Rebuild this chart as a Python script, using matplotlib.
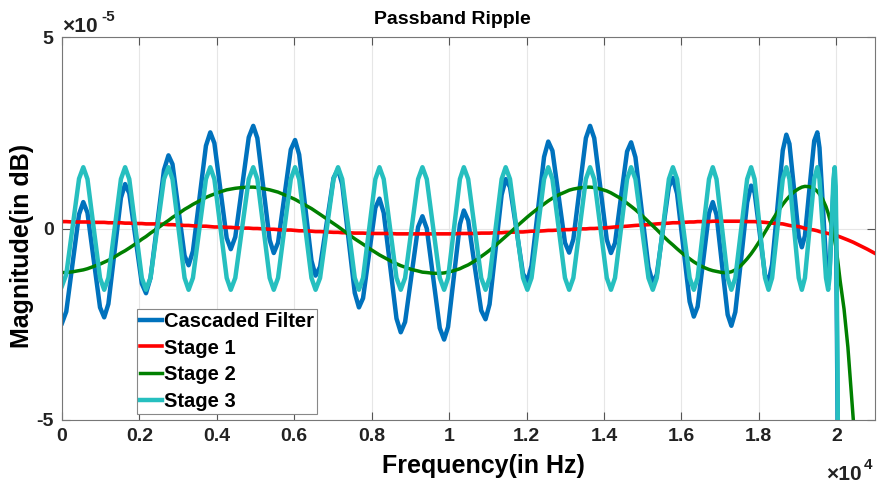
import numpy as np
import matplotlib.pyplot as plt

plt.rcParams['font.family'] = ['Liberation Sans', 'DejaVu Sans']
plt.rcParams['font.weight'] = 'bold'

# magnitudes, in units of 1e-5 dB
UNIT = 1e-5

freq = [
    0, 110, 275, 440, 550, 658, 820, 982, 1090, 1198,
    1360, 1522, 1630, 1738, 1900, 2062, 2170, 2286, 2460, 2634,
    2750, 2854, 3010, 3166, 3270, 3382, 3550, 3718, 3830, 3936,
    4095, 4254, 4360, 4476, 4650, 4824, 4940, 5046, 5205, 5364,
    5470, 5580, 5745, 5910, 6020, 6126, 6285, 6444, 6550, 6666,
    6840, 7014, 7130, 7238, 7400, 7562, 7670, 7776, 7935, 8094,
    8200, 8310, 8475, 8640, 8750, 8862, 9030, 9198, 9310, 9422,
    9590, 9758, 9870, 9972, 10125, 10278, 10380, 10492, 10660, 10828,
    10940, 11044, 11200, 11356, 11460, 11572, 11740, 11908, 12020, 12128,
    12290, 12452, 12560, 12668, 12830, 12992, 13100, 13208, 13370, 13532,
    13640, 13748, 13910, 14072, 14180, 14284, 14440, 14596, 14700, 14812,
    14980, 15148, 15260, 15364, 15520, 15676, 15780, 15888, 16050, 16212,
    16320, 16418, 16565, 16712, 16810, 16906, 17050, 17194, 17290, 17392,
    17545, 17698, 17800, 17890, 18025, 18160, 18250, 18342, 18480, 18618,
    18710, 18790, 18910, 19030, 19110, 19190, 19310, 19430, 19510, 19566,
    19650, 19734, 19790, 19824, 19875, 19926, 19960, 19985, 20000, 20015,
    20030, 20045, 20100, 20200, 20300, 20440, 20600, 20800, 21000,
]

stage1 = [
    0.18, 0.18, 0.17, 0.17, 0.17, 0.17, 0.16, 0.16, 0.16, 0.15,
    0.15, 0.15, 0.14, 0.14, 0.13, 0.13, 0.12, 0.12, 0.12, 0.11,
    0.10, 0.10, 0.09, 0.08, 0.08, 0.07, 0.06, 0.06, 0.05, 0.04,
    0.04, 0.03, 0.03, 0.02, 0.01, 0.01, 0.00, 0.00, -0.01, -0.02,
    -0.02, -0.03, -0.04, -0.04, -0.05, -0.06, -0.06, -0.07, -0.08, -0.08,
    -0.09, -0.10, -0.10, -0.11, -0.11, -0.12, -0.12, -0.12, -0.13, -0.13,
    -0.13, -0.13, -0.13, -0.14, -0.14, -0.14, -0.14, -0.14, -0.14, -0.14,
    -0.14, -0.14, -0.14, -0.14, -0.14, -0.13, -0.13, -0.13, -0.13, -0.12,
    -0.12, -0.12, -0.11, -0.11, -0.10, -0.10, -0.09, -0.09, -0.08, -0.07,
    -0.07, -0.06, -0.05, -0.05, -0.04, -0.03, -0.03, -0.02, -0.01, -0.01,
    0.00, 0.00, 0.01, 0.02, 0.03, 0.04, 0.05, 0.06, 0.07, 0.08,
    0.09, 0.10, 0.11, 0.12, 0.13, 0.14, 0.15, 0.15, 0.16, 0.17,
    0.17, 0.18, 0.18, 0.18, 0.19, 0.19, 0.19, 0.19, 0.19, 0.19,
    0.19, 0.18, 0.18, 0.18, 0.17, 0.16, 0.15, 0.14, 0.13, 0.12,
    0.10, 0.08, 0.06, 0.05, 0.03, 0.00, -0.02, -0.04, -0.06, -0.08,
    -0.10, -0.12, -0.13, -0.14, -0.15, -0.16, -0.17, -0.18, -0.18, -0.19,
    -0.19, -0.20, -0.22, -0.26, -0.30, -0.36, -0.44, -0.54, -0.65,
]

stage2 = [
    -1.15, -1.15, -1.13, -1.10, -1.08, -1.05, -0.99, -0.93, -0.88, -0.83,
    -0.74, -0.64, -0.58, -0.51, -0.40, -0.28, -0.21, -0.12, 0.00, 0.13,
    0.21, 0.29, 0.39, 0.50, 0.56, 0.63, 0.72, 0.81, 0.86, 0.90,
    0.96, 1.01, 1.03, 1.05, 1.07, 1.08, 1.08, 1.07, 1.04, 1.01,
    0.98, 0.95, 0.88, 0.81, 0.76, 0.70, 0.61, 0.52, 0.45, 0.37,
    0.25, 0.13, 0.05, -0.03, -0.15, -0.27, -0.34, -0.41, -0.52, -0.62,
    -0.69, -0.75, -0.84, -0.92, -0.97, -1.01, -1.07, -1.11, -1.14, -1.15,
    -1.17, -1.17, -1.16, -1.14, -1.10, -1.05, -1.00, -0.95, -0.85, -0.73,
    -0.65, -0.57, -0.44, -0.30, -0.21, -0.11, 0.05, 0.20, 0.30, 0.39,
    0.52, 0.64, 0.72, 0.79, 0.88, 0.95, 1.00, 1.03, 1.06, 1.08,
    1.08, 1.07, 1.03, 0.98, 0.93, 0.87, 0.78, 0.66, 0.58, 0.49,
    0.34, 0.18, 0.07, -0.03, -0.19, -0.34, -0.43, -0.53, -0.67, -0.79,
    -0.87, -0.93, -1.01, -1.07, -1.10, -1.12, -1.15, -1.15, -1.13, -1.08,
    -0.96, -0.79, -0.66, -0.53, -0.32, -0.09, 0.06, 0.21, 0.43, 0.63,
    0.75, 0.84, 0.96, 1.04, 1.08, 1.10, 1.09, 1.04, 0.97, 0.90,
    0.76, 0.57, 0.40, 0.27, 0.08, -0.12, -0.30, -0.45, -0.55, -0.66,
    -0.78, -0.90, -1.37, -2.10, -3.10, -5.00, -7.50, -11.0, -15.0,
]

nan = float('nan')
stage3 = [
    -1.50, -1.20, 0.05, 1.30, 1.60, 1.29, 0.00, -1.29, -1.60, -1.29,
    0.00, 1.29, 1.60, 1.29, 0.00, -1.29, -1.60, -1.29, 0.00, 1.29,
    1.60, 1.29, 0.00, -1.29, -1.60, -1.29, 0.00, 1.29, 1.60, 1.29,
    0.00, -1.29, -1.60, -1.29, 0.00, 1.29, 1.60, 1.29, 0.00, -1.29,
    -1.60, -1.29, 0.00, 1.29, 1.60, 1.29, 0.00, -1.29, -1.60, -1.29,
    0.00, 1.29, 1.60, 1.29, 0.00, -1.29, -1.60, -1.29, 0.00, 1.29,
    1.60, 1.29, 0.00, -1.29, -1.60, -1.29, 0.00, 1.29, 1.60, 1.29,
    0.00, -1.29, -1.60, -1.29, 0.00, 1.29, 1.60, 1.29, 0.00, -1.29,
    -1.60, -1.29, 0.00, 1.29, 1.60, 1.29, 0.00, -1.29, -1.60, -1.29,
    0.00, 1.29, 1.60, 1.29, 0.00, -1.29, -1.60, -1.29, 0.00, 1.29,
    1.60, 1.29, 0.00, -1.29, -1.60, -1.29, 0.00, 1.29, 1.60, 1.29,
    0.00, -1.29, -1.60, -1.29, 0.00, 1.29, 1.60, 1.29, 0.00, -1.29,
    -1.60, -1.29, 0.00, 1.29, 1.60, 1.29, 0.00, -1.29, -1.60, -1.29,
    0.00, 1.29, 1.60, 1.29, 0.00, -1.29, -1.60, -1.29, 0.00, 1.29,
    1.60, 1.29, 0.00, -1.29, -1.60, -1.29, 0.00, 1.29, 1.60, 1.29,
    0.00, -1.29, -1.60, -1.29, 0.00, 1.29, 1.60, 1.10, 0.00, -1.60,
    -3.50, -6.00, nan, nan, nan, nan, nan, nan, nan,
]

labels = ['Cascaded Filter', 'Stage 1', 'Stage 2', 'Stage 3']
colors = ['#0072BD', '#FF0000', '#008000', '#26BFBF']
widths = [3.2, 2.6, 2.5, 3.2]

xticks = [0, 2000, 4000, 6000, 8000, 10000, 12000, 14000, 16000, 18000, 20000]
xticklabels = ['0', '0.2', '0.4', '0.6', '0.8', '1', '1.2', '1.4', '1.6', '1.8', '2']
yticks = [-5e-5, 0, 5e-5]
yticklabels = ['-5', '0', '5']

f = np.array(freq)
s1 = np.array(stage1) * UNIT
s2 = np.array(stage2) * UNIT
s3 = np.array(stage3) * UNIT
# cascaded response in dB is the sum of the three stages
cascade = s1 + s2 + s3

fig = plt.figure(figsize=(8.78, 4.87), dpi=100)
ax = fig.add_axes([62 / 878, 67 / 487, 813 / 878, 383 / 487])

for y, lab, c, lw in zip([cascade, s1, s2, s3], labels, colors, widths):
    ax.plot(f, y, color=c, lw=lw, label=lab, solid_joinstyle='round')

ax.set_xlim(0, 21000)
ax.set_ylim(-5e-5, 5e-5)
ax.set_xticks(xticks)
ax.set_xticklabels(xticklabels)
ax.set_yticks(yticks)
ax.set_yticklabels(yticklabels)
ax.grid(True, color='#e6e6e6', lw=0.8)
ax.set_axisbelow(True)
ax.tick_params(direction='in', length=6, width=0.8, top=True, right=True,
               labelsize=14, colors='#555555', labelcolor='#222222', pad=6)
for sp in ax.spines.values():
    sp.set_color('#777777')
    sp.set_linewidth(0.8)

ax.set_title('Passband Ripple', fontsize=14, fontweight='bold', x=0.48, pad=9)
ax.set_xlabel('Frequency(in Hz)', fontsize=18, fontweight='bold')
ax.set_ylabel('Magnitude(in dB)', fontsize=18, fontweight='bold')
ax.xaxis.set_label_coords(0.518, -0.09)
ax.yaxis.set_label_coords(-0.035, 0.455)

# MATLAB-style exponent labels
fig.text(62 / 878, 1 - 36 / 487, '\u00d710', fontsize=15, va='bottom', color='#222222')
fig.text(101 / 878, 1 - 24 / 487, '-5', fontsize=11, va='bottom', color='#222222')
fig.text(826 / 878, 1 - 484 / 487, '\u00d710', fontsize=15, va='bottom', color='#222222')
fig.text(864 / 878, 1 - 472 / 487, '4', fontsize=11, va='bottom', color='#222222')

leg = ax.legend(loc='lower left', bbox_to_anchor=(0.092, 0.016), borderaxespad=0,
                fancybox=False, framealpha=1, edgecolor='#888888',
                prop={'weight': 'bold', 'size': 14.5}, handlelength=1.1,
                handletextpad=0.1, borderpad=0.15, labelspacing=0.38)
leg.get_frame().set_linewidth(0.8)

fig.savefig('out.png', dpi=100)
